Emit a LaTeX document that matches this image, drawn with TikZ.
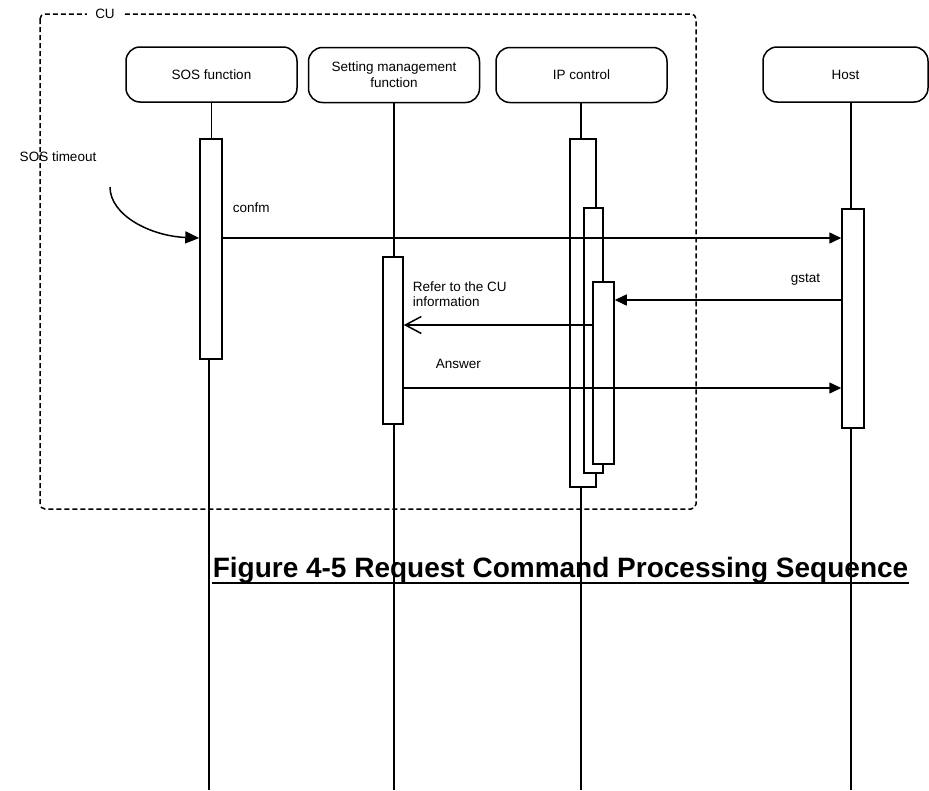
\documentclass[tikz,border=0pt]{standalone}
\usepackage{fontspec}
\setmainfont{Liberation Sans}
\usetikzlibrary{arrows.meta}

\tikzset{
  lifehead/.style={draw,rounded corners=14pt,minimum width=171pt,minimum height=55pt,
    align=center,inner sep=2pt,font=\fontsize{13.5}{16}\selectfont},
  actbox/.style={draw,fill=white,inner sep=0pt,anchor=north},
  msg/.style={-{Triangle[length=12pt,width=11pt]}},
  reply/.style={-{Straight Barb[length=16pt,width=17pt]}},
  txt/.style={font=\fontsize{13.5}{15}\selectfont,inner sep=0pt,anchor=west},
}

\begin{document}
\begin{tikzpicture}[x=1pt,y=-1pt,line width=1.5pt]
\useasboundingbox (0,0) rectangle (929,790);

% CU frame
\draw[dash pattern=on 5pt off 3pt,rounded corners=5pt] (40,14) rectangle (696,509);
\node[txt,anchor=center,fill=white,inner xsep=8pt,inner ysep=2pt] (cu) at (105,14) {CU};

% heads
\node[lifehead] (sos) at (211.5,74.5) {SOS function};
\node[lifehead] (setting) at (394,75) {Setting management\\function};
\node[lifehead] (ip) at (581.5,75) {IP control};
\node[lifehead,minimum width=165pt] (host) at (845.5,74.5) {Host};

% caption
\node[font=\fontsize{28}{30}\selectfont\bfseries,anchor=base west,inner sep=0pt] (caption)
  at (212,577) {Figure 4-5 Request Command Processing Sequence};
\draw[line width=2.8pt] ([yshift=-6pt]caption.base west) -- ([yshift=-6pt]caption.base east);

% lifelines
\coordinate (sosEnd) at (209,790);
\coordinate (settingEnd) at (394,790);
\coordinate (ipEnd) at (581,790);
\coordinate (hostEnd) at (851,790);
\draw (setting.south -| settingEnd) -- (settingEnd);
\draw (ip.south -| ipEnd) -- (ipEnd);
\draw (host.south -| hostEnd) -- (hostEnd);

% activations
\node[actbox,minimum width=22pt,minimum height=220pt] (sosAct) at (211,138) {};
\node[actbox,minimum width=20pt,minimum height=167pt] (settingAct) at (393,256) {};
\node[actbox,minimum width=26pt,minimum height=348pt] (ipAct1) at (583,138) {};
\node[actbox,minimum width=19pt,minimum height=265pt] (ipAct2) at (593.5,207) {};
\node[actbox,minimum width=21pt,minimum height=182pt] (ipAct3) at (603.5,281) {};
\node[actbox,minimum width=22pt,minimum height=219pt] (hostAct) at (853,208) {};
\draw (sos.south) -- (sosAct.north -| sos.south);
\draw (sosAct.south -| sosEnd) -- (sosEnd);

% messages
\coordinate (yConfm) at (0,238);
\coordinate (yGstat) at (0,300);
\coordinate (yRefer) at (0,325);
\coordinate (yAnswer) at (0,388);
\coordinate (tmStart) at (110,187);

\draw[-{Triangle[length=14pt,width=12pt]}] (tmStart) .. controls (110,215) and (150,236) .. (sosAct.west |- yConfm);
\node[txt] (tmLbl) at (19,157) {SOS timeout};

\draw[msg] (sosAct.east |- yConfm) -- (hostAct.west |- yConfm);
\node[txt] (confmLbl) at (232,208) {confm};

\draw[msg] (hostAct.west |- yGstat) -- (ipAct3.east |- yGstat);
\node[txt] (gstatLbl) at (790,280) {gstat};

\draw[reply] (ipAct3.west |- yRefer) -- (settingAct.east |- yRefer);
\node[txt,anchor=north west,align=left] (referLbl) at (412,281) {Refer to the CU\\information};

\draw[msg] (settingAct.east |- yAnswer) -- (hostAct.west |- yAnswer);
\node[txt] (answerLbl) at (435,364) {Answer};
\end{tikzpicture}
\end{document}
